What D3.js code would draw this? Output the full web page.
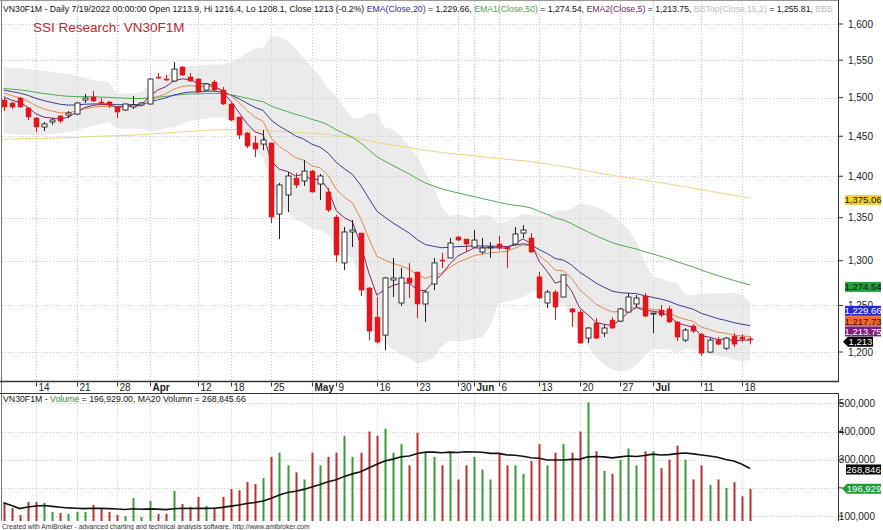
<!DOCTYPE html>
<html><head><meta charset="utf-8">
<script src="https://cdn.jsdelivr.net/npm/d3@7"></script>
<style>body{margin:0;background:#fff;}svg{display:block;font-family:"Liberation Sans",Arial,sans-serif;}</style>
</head><body><svg id="c" width="883" height="530"></svg>
<script>
// ---------------- DATA ----------------
const dates = ["2022-03-08","2022-03-09","2022-03-10","2022-03-11","2022-03-14","2022-03-15","2022-03-16","2022-03-17","2022-03-18","2022-03-21","2022-03-22","2022-03-23","2022-03-24","2022-03-25","2022-03-28","2022-03-29","2022-03-30","2022-03-31",
"2022-04-01","2022-04-04","2022-04-05","2022-04-06","2022-04-07","2022-04-08","2022-04-12","2022-04-13","2022-04-14","2022-04-15","2022-04-18","2022-04-19","2022-04-20","2022-04-21","2022-04-22","2022-04-25","2022-04-26","2022-04-27","2022-04-28","2022-04-29",
"2022-05-04","2022-05-05","2022-05-06","2022-05-09","2022-05-10","2022-05-11","2022-05-12","2022-05-13","2022-05-16","2022-05-17","2022-05-18","2022-05-19","2022-05-20","2022-05-23","2022-05-24","2022-05-25","2022-05-26","2022-05-27","2022-05-30","2022-05-31",
"2022-06-01","2022-06-02","2022-06-03","2022-06-06","2022-06-07","2022-06-08","2022-06-09","2022-06-10","2022-06-13","2022-06-14","2022-06-15","2022-06-16","2022-06-17","2022-06-20","2022-06-21","2022-06-22","2022-06-23","2022-06-24","2022-06-27","2022-06-28","2022-06-29","2022-06-30",
"2022-07-01","2022-07-04","2022-07-05","2022-07-06","2022-07-07","2022-07-08","2022-07-11","2022-07-12","2022-07-13","2022-07-14","2022-07-15","2022-07-18","2022-07-19"];

const opens = [1496.8,1492.9,1499.4,1486.4,1473.4,1461.8,1468.2,1476.0,1477.2,1478.5,1496.8,1500.8,1494.2,1494.2,1487.7,1483.7,1487.7,1490.3,
1491.6,1527.3,1524.6,1522.0,1540.8,1527.3,1524.6,1510.0,1520.6,1510.0,1491.6,1474.7,1454.1,1441.4,1440.1,1441.4,1354.3,1377.2,1397.8,1394.2,
1406.4,1390.5,1380.8,1350.8,1297.5,1333.2,1332.0,1269.3,1237.3,1217.9,1278.2,1252.7,1280.5,1287.2,1251.6,1273.8,1300.8,1303.2,1327.3,1325.0,
1315.7,1310.0,1315.0,1319.2,1315.7,1319.2,1332.0,1326.2,1281.7,1252.7,1264.8,1259.3,1246.2,1242.8,1214.7,1230.9,1220.1,1234.1,1233.0,1242.8,1251.6,1260.4,
1240.6,1245.0,1246.2,1232.0,1212.6,1227.7,1219.0,1199.9,1212.6,1204.0,1216.8,1215.8,1213.9];
const highs = [1499.4,1494.2,1500.8,1487.7,1474.7,1468.2,1473.4,1477.2,1482.4,1494.2,1504.7,1508.7,1499.4,1495.5,1489.0,1492.0,1502.1,1494.2,
1526.0,1532.7,1530.0,1547.6,1542.0,1532.7,1526.0,1519.3,1523.3,1514.0,1492.9,1474.7,1455.4,1450.3,1458.0,1442.0,1391.7,1405.2,1404.0,1420.0,
1407.7,1402.8,1385.6,1353.2,1339.0,1347.3,1332.0,1270.4,1259.3,1281.7,1303.2,1291.8,1297.5,1287.2,1267.0,1303.2,1308.9,1326.2,1328.5,1325.0,
1335.5,1326.2,1321.5,1328.5,1316.8,1339.0,1341.4,1332.0,1287.2,1267.0,1267.0,1284.0,1247.2,1245.0,1226.6,1236.3,1228.7,1237.3,1247.2,1263.7,1261.5,1263.7,
1241.7,1250.5,1249.4,1233.0,1225.5,1229.8,1220.1,1214.7,1215.8,1215.8,1220.1,1219.0,1216.4];
const lows = [1482.4,1485.0,1486.4,1470.8,1455.4,1456.6,1464.4,1467.0,1473.4,1477.2,1492.9,1494.2,1490.3,1486.4,1473.4,1483.0,1485.0,1489.0,
1491.0,1524.6,1522.0,1520.6,1528.7,1520.6,1506.0,1508.7,1507.4,1490.3,1469.5,1446.4,1435.0,1423.8,1432.5,1343.7,1325.0,1356.7,1385.6,1388.1,
1380.0,1371.1,1356.7,1298.6,1289.5,1315.7,1260.4,1212.6,1209.4,1202.0,1259.3,1249.4,1258.2,1236.3,1232.0,1267.0,1291.8,1303.2,1322.6,1310.0,
1315.7,1307.8,1303.2,1312.3,1291.8,1318.0,1326.2,1308.9,1257.1,1247.2,1234.1,1259.0,1226.6,1209.0,1209.4,1213.6,1215.8,1224.4,1232.0,1242.8,1248.3,1237.3,
1220.1,1237.3,1230.9,1211.5,1210.5,1220.1,1195.6,1198.8,1207.2,1202.0,1205.1,1210.5,1208.1];
const closes = [1487.7,1487.7,1487.7,1474.7,1461.8,1465.7,1470.8,1469.5,1479.8,1492.9,1499.4,1495.5,1492.9,1490.3,1481.1,1491.6,1490.3,1492.9,
1524.6,1526.0,1523.3,1538.0,1530.0,1522.0,1507.4,1518.0,1510.0,1491.6,1470.8,1451.5,1437.6,1433.8,1445.2,1350.8,1389.3,1400.3,1389.3,1406.4,
1380.8,1400.3,1359.1,1306.6,1333.2,1335.5,1267.0,1222.2,1210.5,1280.5,1280.5,1280.5,1274.9,1251.6,1264.8,1297.5,1299.7,1320.3,1323.8,1319.2,
1323.8,1314.6,1315.7,1314.6,1313.4,1330.9,1335.5,1310.0,1258.2,1264.8,1248.3,1283.9,1242.8,1209.4,1225.5,1214.7,1225.5,1225.5,1246.2,1259.3,1258.2,1238.4,
1241.7,1239.5,1232.0,1215.8,1223.3,1222.2,1198.8,1212.6,1208.3,1214.7,1208.3,1213.6,1213.0];
const volumes = [147000,129000,104000,150000,150000,147000,115000,111000,108000,115000,115000,140000,125000,115000,104000,100000,164000,97000,
154000,108000,108000,189000,143000,133000,168000,136000,129000,168000,196000,192000,221000,214000,235000,310000,325000,280000,255000,230000,
325000,280000,310000,325000,385000,310000,325000,400000,385000,410000,325000,355000,280000,395000,325000,310000,280000,325000,230000,280000,
310000,265000,230000,325000,280000,280000,250000,295000,355000,280000,325000,355000,325000,400000,503000,330000,260000,250000,300000,340000,280000,330000,
330000,270000,300000,350000,300000,230000,280000,210000,230000,200000,220000,170000,196929];

// Bollinger band values read for the first bars (window starts before visible data)
const bbUpperEarly = [1540.8,1539.4,1539.4,1538.0,1536.7,1535.3,1534.0,1532.7,1531.3,1528.7,1526.0,1523.3,1522.0,1520.6];
const bbLowerEarly = [1454.1,1452.8,1451.5,1451.5,1451.5,1451.5,1452.8,1454.1,1455.4,1458.0,1460.5,1463.1,1465.7,1468.2];
// EMA values at first visible bar
const emaSeeds = {e5:1501, e10:1506, e20:1510, e50:1512, e200:1446};

const tickDates = ["2022-03-14","2022-03-21","2022-03-28","2022-04-01","2022-04-12","2022-04-18","2022-04-25","2022-05-04","2022-05-09","2022-05-16","2022-05-23","2022-05-30","2022-06-01","2022-06-06","2022-06-13","2022-06-20","2022-06-27","2022-07-01","2022-07-11","2022-07-18"];
const tickLabels = ["14","21","28","Apr","12","18","25","May","9","16","23","30","Jun","6","13","20","27","Jul","11","18"];
const priceTicks = [1200,1250,1300,1350,1400,1450,1500,1550,1600];
const volTicks = [100000,200000,300000,400000,500000];
const volTickLabels = ["100,000","","300,000","400,000","500,000"]; // 200,000 is hidden behind the value tag

// ---------------- HELPERS ----------------
function ema(vals, period, seed){ const a=2/(period+1); const out=[]; let e=seed; vals.forEach((v,i)=>{ if(i>0) e=e+a*(v-e); out.push(e);}); return out; }
const e5=ema(closes,5,emaSeeds.e5), e10=ema(closes,10,emaSeeds.e10), e20=ema(closes,20,emaSeeds.e20), e50=ema(closes,50,emaSeeds.e50), e200=ema(closes,200,emaSeeds.e200);
const bbU=[], bbL=[];
closes.forEach((c,i)=>{
  if(i<14){ bbU.push(bbUpperEarly[i]); bbL.push(bbLowerEarly[i]); return; }
  const w=closes.slice(i-14,i+1); const m=d3.mean(w); const sd=Math.sqrt(d3.mean(w.map(v=>(v-m)*(v-m))));
  bbU.push(m+2*sd); bbL.push(m-2*sd);
});
const ma20 = volumes.map((v,i)=>d3.mean(volumes.slice(Math.max(0,i-19),i+1)));

// ---------------- LAYOUT ----------------
const svg=d3.select('#c');
const L=2, R=838, PT=1, PB=381.5, VT=393.5, VB=521;
const idx = d=>dates.indexOf(d);
const x=d3.scaleLinear().domain([0,dates.length-1]).range([3.5,3.5+(dates.length-1)*8.115]);
const y=d3.scaleLog().domain([1200,1600]).range([352,24]);
const yv=d3.scaleLinear().domain([0,500000]).range([544.3,403.3]);

const defs=svg.append('defs');
defs.append('clipPath').attr('id','cp').append('rect').attr('x',L).attr('y',PT).attr('width',R-L).attr('height',PB-PT);
defs.append('clipPath').attr('id','cv').append('rect').attr('x',L).attr('y',VT).attr('width',R-L).attr('height',VB-VT);

const gp=svg.append('g').attr('clip-path','url(#cp)');
// Bollinger band
gp.append('path').datum(d3.range(dates.length)).attr('fill','#ebebeb')
  .attr('d',d3.area().x(i=>x(i)).y0(i=>y(bbL[i])).y1(i=>y(bbU[i])));
// grid
const gridCol='#c9c9c9';
priceTicks.forEach(p=>gp.append('line').attr('x1',L).attr('x2',R).attr('y1',Math.round(y(p))+0.5).attr('y2',Math.round(y(p))+0.5).attr('stroke',gridCol).attr('stroke-dasharray','1,2'));
tickDates.forEach(d=>{const xx=Math.round(x(idx(d)))+0.5;
  gp.append('line').attr('x1',xx).attr('x2',xx).attr('y1',PT).attr('y2',PB).attr('stroke',gridCol).attr('stroke-dasharray','1,2');
  svg.append('line').attr('x1',xx).attr('x2',xx).attr('y1',VT).attr('y2',VB).attr('stroke',gridCol).attr('stroke-dasharray','1,2');
});
volTicks.forEach(v=>svg.append('line').attr('x1',L).attr('x2',R).attr('y1',Math.round(yv(v))+0.5).attr('y2',Math.round(yv(v))+0.5).attr('stroke',gridCol).attr('stroke-dasharray','1,2'));

// EMA lines
const lineGen=arr=>d3.line().x((d,i)=>x(i)).y(d=>y(d))(arr);
[[e200,'#e9d67e'],[e50,'#4faa4f'],[e20,'#3b3b96'],[e10,'#e0874e'],[e5,'#7d2470']].forEach(([a,c])=>
  gp.append('path').attr('d',lineGen(a)).attr('fill','none').attr('stroke',c).attr('stroke-width',1));

// candles
const red='#e4161b';
d3.range(dates.length).forEach(i=>{
  const up=closes[i]>=opens[i]; const cx=Math.round(x(i))+0.5;
  const col= up ? '#222' : red;
  gp.append('line').attr('x1',cx).attr('x2',cx).attr('y1',y(highs[i])).attr('y2',y(lows[i])).attr('stroke',col).attr('stroke-width',1);
  const top=y(Math.max(opens[i],closes[i])), bot=y(Math.min(opens[i],closes[i]));
  gp.append('rect').attr('x',cx-2.5).attr('y',top).attr('width',5).attr('height',Math.max(1,bot-top))
    .attr('fill',up?'#fff':red).attr('stroke',col).attr('stroke-width',up?0.9:0.5);
});

// volume bars & MA
const gv=svg.append('g').attr('clip-path','url(#cv)');
volumes.forEach((v,i)=>{
  const up=closes[i]>=opens[i];
  gv.append('rect').attr('x',Math.round(x(i))-0.5).attr('y',yv(v)).attr('width',2).attr('height',Math.max(0,VB-yv(v)))
    .attr('fill',up?'#3a9a3a':'#b5322e');
});
gv.append('path').attr('d',d3.line().x((d,i)=>x(i)).y(d=>yv(d))(ma20)).attr('fill','none').attr('stroke','#111').attr('stroke-width',1.6);

// frame lines
const dark='#333';
svg.append('line').attr('x1',1.5).attr('x2',1.5).attr('y1',0).attr('y2',VB).attr('stroke','#777');
svg.append('line').attr('x1',0).attr('x2',R).attr('y1',0.5).attr('y2',0.5).attr('stroke','#999');
svg.append('line').attr('x1',R+0.5).attr('x2',R+0.5).attr('y1',0).attr('y2',PB).attr('stroke',dark);
svg.append('line').attr('x1',R+0.5).attr('x2',R+0.5).attr('y1',VT).attr('y2',VB).attr('stroke',dark);
svg.append('line').attr('x1',0).attr('x2',R+1).attr('y1',PB).attr('y2',PB).attr('stroke',dark).attr('stroke-width',1.5);
svg.append('line').attr('x1',0).attr('x2',R+1).attr('y1',VT).attr('y2',VT).attr('stroke',dark).attr('stroke-width',1.2);

// date axis
tickDates.forEach((d,k)=>{const xx=Math.round(x(idx(d)))+0.5; const bold=isNaN(+tickLabels[k]);
  svg.append('line').attr('x1',xx).attr('x2',xx).attr('y1',PB+1).attr('y2',PB+5).attr('stroke',dark);
  svg.append('text').attr('x',xx+2).attr('y',391).attr('font-size',10).attr('fill','#222').attr('font-weight',bold?'bold':'normal').text(tickLabels[k]);
});

// price axis labels
const fmt=d3.format(',');
priceTicks.forEach(p=>{const yy=y(p);
  svg.append('line').attr('x1',R+1).attr('x2',R+5).attr('y1',yy).attr('y2',yy).attr('stroke',dark);
  svg.append('text').attr('x',873).attr('y',yy+3.5).attr('text-anchor','end').attr('font-size',10).attr('fill','#222').text(fmt(p));
});
volTicks.forEach((v,k)=>{const yy=yv(v);
  svg.append('line').attr('x1',R+1).attr('x2',R+5).attr('y1',yy).attr('y2',yy).attr('stroke',dark);
  if(volTickLabels[k]) svg.append('text').attr('x',875).attr('y',yy+3.5).attr('text-anchor','end').attr('font-size',10).attr('fill','#222').text(volTickLabels[k]);
});

// value boxes on price axis (top-to-bottom order as in the chart)
const last=dates.length-1;
const boxes=[
  {v:e200[last], t:'1,375.06', bg:'#f3d12e', fg:'#111'},
  {v:e50[last], t:'1,274.54', bg:'#20a23c', fg:'#111'},
  {v:e20[last], t:'1,229.66', bg:'#2727d6', fg:'#fff'},
  {v:e10[last], t:'1,217.73', bg:'#f0682c', fg:'#4a0a00'},
  {v:e5[last], t:'1,213.75', bg:'#7c1d7c', fg:'#fff'},
  {v:closes[last], t:'1,213', bg:'#000', fg:'#fff', arrow:true}
];
boxes.forEach(b=>b.y=y(b.v)+2);
for(let k=boxes.length-2;k>=0;k--){ if(boxes[k].y>boxes[k+1].y-10.3) boxes[k].y=boxes[k+1].y-10.3; }
function drawBox(b, x0, x1){
  const h=10, t=b.y-h/2;
  if(b.arrow){
    svg.append('path').attr('d',`M${x0-5},${b.y} L${x0},${t} L${x1},${t} L${x1},${t+h} L${x0},${t+h} Z`).attr('fill',b.bg);
  } else svg.append('rect').attr('x',x0).attr('y',t).attr('width',x1-x0).attr('height',h).attr('fill',b.bg);
  svg.append('text').attr('x',(x0+x1)/2).attr('y',b.y+3.4).attr('text-anchor','middle').attr('font-size',9.5).attr('fill',b.fg).text(b.t);
}
boxes.forEach(b=> b.arrow ? drawBox(b,848,873) : drawBox(b,845,881));
// volume boxes
drawBox({y:yv(ma20[last])+1, t:'268,846', bg:'#000', fg:'#fff'},846,881);
drawBox({y:yv(volumes[last]), t:'196,929', bg:'#1f9a38', fg:'#fff', arrow:true},847,881);

// header legend
function fit(sel,target){const len=sel.node().getComputedTextLength(); sel.attr('font-size',(+sel.attr('font-size'))*target/len);}
const hdr=svg.append('text').attr('x',3).attr('y',12).attr('font-size',10).attr('fill','#111');
[['VN30F1M - Daily 7/19/2022 00:00:00 Open 1213.9, Hi 1216.4, Lo 1208.1, Close 1213 (-0.2%) ','#111'],
 ['EMA(Close,20)','#3030b0'],[' = 1,229.66, ','#111'],['EMA1(Close,50)','#45a845'],[' = 1,274.54, ','#111'],
 ['EMA2(Close,5)','#6e1f6e'],[' = 1,213.75, ','#111'],['BBTop(Close,15,2)','#bdbdbd'],[' = 1,255.81, ','#111'],['BBB','#bdbdbd']]
 .forEach(([t,c])=>hdr.append('tspan').attr('fill',c).text(t));
fit(hdr,830);
svg.append('text').attr('x',33).attr('y',31.5).attr('font-size',13.5).attr('fill','#c0272d').text('SSI Research: VN30F1M');

const vh=svg.append('text').attr('x',3).attr('y',401.5).attr('font-size',10).attr('fill','#111');
[['VN30F1M - ','#111'],['Volume','#3a8a3a'],[' = 196,929.00, MA20 Volumn = 268,845.66','#111']].forEach(([t,c])=>vh.append('tspan').attr('fill',c).text(t));
fit(vh,243);
const ft=svg.append('text').attr('x',2).attr('y',528.5).attr('font-size',8).attr('fill','#333')
  .text('Created with AmiBroker - advanced charting and technical analysis software. http://www.amibroker.com');
fit(ft,308);
</script></body></html>
